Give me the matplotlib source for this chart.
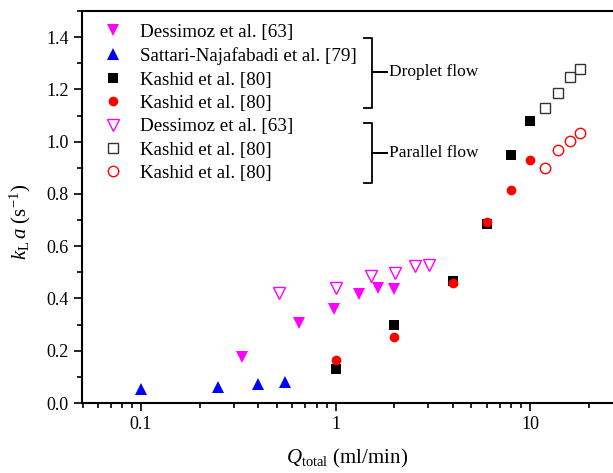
import numpy as np
import matplotlib
matplotlib.use('Agg')
import matplotlib.pyplot as plt
from matplotlib.lines import Line2D
from matplotlib.ticker import LogLocator, FixedLocator, MultipleLocator, FuncFormatter

plt.rcParams['font.family'] = 'Liberation Serif'
plt.rcParams['mathtext.fontset'] = 'custom'
plt.rcParams['mathtext.rm'] = 'Liberation Serif'
plt.rcParams['mathtext.it'] = 'Liberation Serif:italic'

# droplet flow
dess_x = [0.33, 0.65, 0.98, 1.32, 1.65, 2.0]
dess_y = [0.177, 0.305, 0.358, 0.416, 0.441, 0.436]
satt_x = [0.1, 0.25, 0.4, 0.55]
satt_y = [0.054, 0.062, 0.072, 0.081]
kash_sq_x = [1, 2, 4, 6, 8, 10]
kash_sq_y = [0.129, 0.297, 0.468, 0.685, 0.949, 1.079]
kash_ci_x = [1, 2, 4, 6, 8, 10]
kash_ci_y = [0.164, 0.254, 0.458, 0.694, 0.815, 0.930]

# parallel flow
dess_p_x = [0.515, 1.0, 1.53, 2.03, 2.55, 3.04]
dess_p_y = [0.420, 0.439, 0.486, 0.498, 0.524, 0.528]
kash_sq_p_x = [12, 14, 16, 18]
kash_sq_p_y = [1.127, 1.187, 1.246, 1.277]
kash_ci_p_x = [12, 14, 16, 18]
kash_ci_p_y = [0.899, 0.970, 1.003, 1.035]

fig = plt.figure(figsize=(6.13, 4.73), dpi=100)
ax = fig.add_axes([82/613, 1-403/473, 1-82/613, (403-11)/473])

ax.plot(dess_x, dess_y, 'v', color='#ff00ff', ms=8.5, mew=0, label='Dessimoz et al. [63]')
ax.plot(satt_x, satt_y, '^', color='#0000ff', ms=8.5, mew=0, label='Sattari-Najafabadi et al. [79]')
ax.plot(kash_sq_x, kash_sq_y, 's', color='black', ms=6.5, mew=0, label='Kashid et al. [80]')
ax.plot(kash_ci_x, kash_ci_y, 'o', color='#ff0000', ms=7, mew=0, label='Kashid et al. [80]')
ax.plot(dess_p_x, dess_p_y, 'v', mfc='none', mec='#ff00ff', ms=8.5, mew=1, label='Dessimoz et al. [63]')
ax.plot(kash_sq_p_x, kash_sq_p_y, 's', mfc='none', mec='#333333', ms=6.5, mew=1, label='Kashid et al. [80]')
ax.plot(kash_ci_p_x, kash_ci_p_y, 'o', mfc='none', mec='#ff0000', ms=7.5, mew=1, label='Kashid et al. [80]')

ax.set_xscale('log')
ax.set_xlim(0.0497, 26.7)
ax.set_ylim(0, 1.5)
ax.xaxis.set_major_locator(FixedLocator([0.1, 1, 10]))
ax.xaxis.set_major_formatter(FuncFormatter(lambda v, p: '%g' % v))
ax.xaxis.set_minor_locator(LogLocator(base=10, subs=np.arange(2, 10)))
ax.xaxis.set_minor_formatter(FuncFormatter(lambda v, p: ''))
ax.yaxis.set_major_locator(MultipleLocator(0.2))
ax.yaxis.set_minor_locator(MultipleLocator(0.1))
ax.yaxis.set_major_formatter(FuncFormatter(lambda v, p: '%.1f' % v))

ax.tick_params(which='major', direction='out', length=6, width=1.2, labelsize=13)
ax.tick_params(which='minor', direction='out', length=3.5, width=1.2)
for s in ['left', 'bottom', 'top']:
    ax.spines[s].set_linewidth(1.5)
ax.spines['right'].set_visible(False)

ax.set_xlabel(r'$Q_{\mathrm{total}}$ (ml/min)', fontsize=15, labelpad=10)
ax.set_ylabel(r'$k_{\mathrm{L}}\,a$ (s$^{-1}$)', fontsize=15)
ax.yaxis.set_label_coords(-0.093, 0.462)

ax.legend(loc='upper left', bbox_to_anchor=(0.004, 1.011), frameon=False, fontsize=13.7,
          handlelength=1.2, handletextpad=0.82, labelspacing=0.32, borderaxespad=0.5)

# brackets drawn in pixel coordinates (origin top-left)
def bracket(top, bottom, mid, text):
    xl, xr, xt = 364, 372, 387
    xs = [xl, xr, xr, xt, xr, xr, xl]
    ys = [top, top, mid, mid, mid, bottom, bottom]
    fig.add_artist(Line2D([x/613 for x in xs], [1 - y/473 for y in ys],
                          transform=fig.transFigure, color='black', lw=1.3,
                          solid_joinstyle='round'))
    fig.text(389/613, 1 - mid/473, text, fontsize=12.5, va='center', ha='left')

bracket(38, 108, 72, 'Droplet flow')
bracket(123, 183, 153, 'Parallel flow')

fig.savefig('out.png', dpi=100)
